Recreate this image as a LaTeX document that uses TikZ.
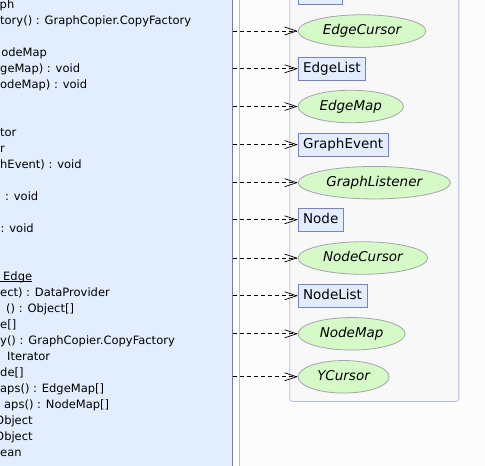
\documentclass[tikz,border=0pt]{standalone}
\usepackage{fontspec}
\setmainfont{DejaVu Sans}
\usepackage{tikz}
\usetikzlibrary{positioning, arrows.meta, fit, backgrounds, shapes.geometric}
\definecolor{panelblue}{HTML}{E2EEFF}
\definecolor{panelline}{HTML}{767BA6}
\definecolor{lavender}{HTML}{B3BBF2}
\definecolor{boxfill}{HTML}{E2EEFF}
\definecolor{boxline}{HTML}{7A80BA}
\definecolor{ovalfill}{HTML}{D6F9C8}
\definecolor{ovalline}{HTML}{A3A3AD}
\definecolor{groupfill}{HTML}{F8F8F8}
\definecolor{canvasgray}{HTML}{FCFCFC}

\begin{document}
\begin{tikzpicture}[x=1pt, y=-1pt,
    member/.style={anchor=base west, inner sep=0pt, font=\fontsize{11.5}{13}\selectfont},
    classbox/.style={draw=boxline, fill=boxfill, line width=0.8pt, anchor=west,
      inner xsep=5pt, inner ysep=0pt, minimum height=23pt, text height=10pt, text depth=3pt,
      font=\fontsize{13.5}{15}\selectfont},
    ifaceoval/.style={ellipse, draw=ovalline, fill=ovalfill, line width=0.8pt, anchor=west,
      inner xsep=6pt, inner ysep=0pt, minimum height=32.5pt, text height=10pt, text depth=3pt,
      font=\fontsize{13.5}{15}\selectfont\itshape},
    uses/.style={dash pattern=on 4.5pt off 2.5pt, line width=0.7pt,
      -{Straight Barb[length=12pt, width=8pt, line width=0.7pt]}}]
    \path[use as bounding box] (0,0) rectangle (485,466);
    \clip (0,0) rectangle (485,466);

    % classes used by the graph
    \node[classbox]  (edge)          at (297.7,-6.8)  {Edge};
    \node[ifaceoval] (edgecursor)    at (297.7,31)    {EdgeCursor};
    \node[classbox]  (edgelist)      at (297.7,68.8)  {EdgeList};
    \node[ifaceoval] (edgemap)       at (297.7,106.5) {EdgeMap};
    \node[classbox]  (graphevent)    at (297.7,144.6) {GraphEvent};
    \node[ifaceoval] (graphlistener) at (297.7,182.7) {GraphListener};
    \node[classbox]  (node)          at (297.7,219.8) {Node};
    \node[ifaceoval] (nodecursor)    at (297.7,258)   {NodeCursor};
    \node[classbox]  (nodelist)      at (297.7,295.8) {NodeList};
    \node[ifaceoval] (nodemap)       at (297.7,333.8) {NodeMap};
    \node[ifaceoval] (ycursor)       at (297.7,376.8) {YCursor};

    \begin{scope}[on background layer]
      \fill[canvasgray] (240,0) rectangle (485,466);
      \node[fill=panelblue, draw=panelline, line width=1pt, anchor=north west,
            minimum width=236.5pt, minimum height=476pt, inner sep=0pt] (graphpanel) at (-5,-5) {};
      \draw[lavender, line width=1pt] (239.5,0) -- (239.5,466);
      \node[draw=lavender, fill=groupfill, rounded corners=3pt, line width=0.8pt,
            inner sep=8pt, fit=(edge)(graphlistener)(ycursor)] (graphgroup) {};
    \end{scope}

    % members of the graph class, cut off at the left
    \foreach \i/\xs/\txt in {0/-0.5/ph, 1/0/tory() : GraphCopier.CopyFactory,
        3/-7.5/NodeMap, 4/0/geMap) : void, 5/0/odeMap) : void, 8/0/tor, 9/0/r,
        10/0/hEvent) : void, 12/5/: void, 14/0.5/: void, 17/3/Edge,
        18/0/ect) : DataProvider, 19/6/() : Object[], 20/0/e[],
        21/0/y() : GraphCopier.CopyFactory, 22/7/Iterator, 23/0/de[],
        24/0/aps() : EdgeMap[], 25/4/aps() : NodeMap[], 26/-5/Object,
        27/-5/Object, 28/0/ean}
      \node[member] (member\i) at (\xs,{8+16*\i}) {\txt};
    \draw[line width=0.8pt] ([xshift=-3pt, yshift=-1.5pt]member17.base west)
      -- ([yshift=-1.5pt]member17.base east);

    % dependencies
    \foreach \n in {edgecursor, edgelist, edgemap, graphevent, graphlistener,
        node, nodecursor, nodelist, nodemap, ycursor}
      \draw[uses] (graphpanel.east |- \n.west) -- (\n.west);
  \end{tikzpicture}
\end{document}
